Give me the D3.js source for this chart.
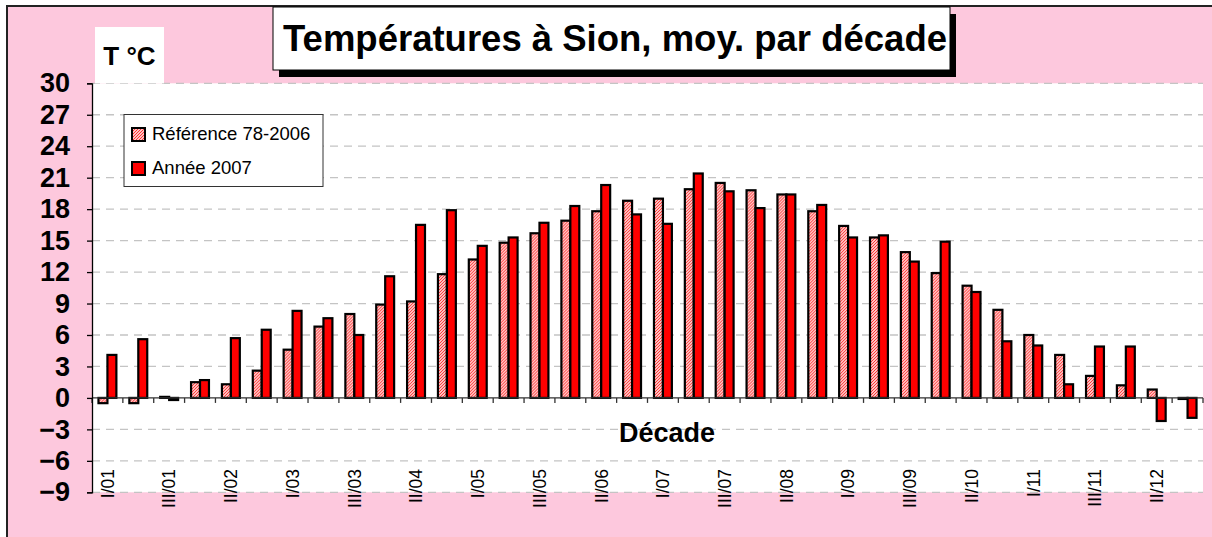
<!DOCTYPE html>
<html>
<head>
<meta charset="utf-8">
<script src="https://cdn.jsdelivr.net/npm/d3@7"></script>
<style>
  html, body { margin: 0; padding: 0; background: #ffffff; }
  svg { display: block; font-family: "Liberation Sans", Arial, sans-serif; }
</style>
</head>
<body>
<svg id="chart" width="1212" height="537"></svg>
<script>
// ---------- DATA ----------
const categories = [
  "I/01","II/01","III/01","I/02","II/02","III/02","I/03","II/03","III/03",
  "I/04","II/04","III/04","I/05","II/05","III/05","I/06","II/06","III/06",
  "I/07","II/07","III/07","I/08","II/08","III/08","I/09","II/09","III/09",
  "I/10","II/10","III/10","I/11","II/11","III/11","I/12","II/12","III/12"
];
const reference = [
  -0.5, -0.5, 0.1, 1.5, 1.3, 2.6, 4.6, 6.8, 8.0,
  8.9, 9.2, 11.8, 13.2, 14.8, 15.7, 16.9, 17.8, 18.8,
  19.0, 19.9, 20.5, 19.8, 19.4, 17.8, 16.4, 15.3, 13.9,
  11.9, 10.7, 8.4, 6.0, 4.1, 2.1, 1.2, 0.8, -0.1
];
const year2007 = [
  4.1, 5.6, -0.2, 1.7, 5.7, 6.5, 8.3, 7.6, 6.0,
  11.6, 16.5, 17.9, 14.5, 15.3, 16.7, 18.3, 20.3, 17.5,
  16.6, 21.4, 19.7, 18.1, 19.4, 18.4, 15.3, 15.5, 13.0,
  14.9, 10.1, 5.4, 5.0, 1.3, 4.9, 4.9, -2.2, -1.9
];
const seriesNames = ["Référence 78-2006", "Année 2007"];
const yTicks = [-9, -6, -3, 0, 3, 6, 9, 12, 15, 18, 21, 24, 27, 30];
const titleText = "Températures à Sion, moy. par décade";
const yLabel = "T °C";
const xLabel = "Décade";

// ---------- LAYOUT ----------
const svg = d3.select("#chart");
const plot = { left: 92, right: 1203, top: 83.3, bottom: 492.3 };

const defs = svg.append("defs");
const pat = defs.append("pattern")
  .attr("id", "hatch").attr("patternUnits", "userSpaceOnUse")
  .attr("width", 3).attr("height", 3);
pat.append("rect").attr("width", 3).attr("height", 3).attr("fill", "#ffffff");
pat.append("path").attr("d", "M-1,1 L1,-1 M0,3 L3,0 M2,4 L4,2")
  .attr("stroke", "#ff2a2a").attr("stroke-width", 1.1);

// chart background with frame
svg.append("rect").attr("x", 7).attr("y", 6).attr("width", 1240).attr("height", 560)
  .attr("fill", "#fdc8dd").attr("stroke", "#222").attr("stroke-width", 2);

// plot area
svg.append("rect").attr("x", plot.left).attr("y", plot.top)
  .attr("width", plot.right - plot.left).attr("height", plot.bottom - plot.top)
  .attr("fill", "#ffffff");

// scales
const y = d3.scaleLinear().domain([-9, 30]).range([plot.bottom, plot.top]);
const x0 = d3.scaleBand().domain(categories).range([plot.left, plot.right])
  .paddingInner(0.42).paddingOuter(0.21);
const x1 = d3.scaleBand().domain([0, 1]).range([0, x0.bandwidth()]);

// gridlines
svg.append("g").selectAll("line").data(yTicks.filter(d => d !== 0)).join("line")
  .attr("x1", plot.left).attr("x2", plot.right)
  .attr("y1", d => y(d)).attr("y2", d => y(d))
  .attr("stroke", "#c4c4c4").attr("stroke-width", 1.3).attr("stroke-dasharray", "8,6");

// bars
const groups = svg.append("g").selectAll("g").data(categories).join("g")
  .attr("transform", d => `translate(${x0(d)},0)`);
groups.selectAll("rect")
  .data((d, i) => [reference[i], year2007[i]].map((v, k) => ({ v, k })))
  .join("rect")
  .attr("x", d => x1(d.k))
  .attr("width", x1.bandwidth())
  .attr("y", d => y(Math.max(0, d.v)))
  .attr("height", d => Math.abs(y(d.v) - y(0)))
  .attr("fill", d => d.k === 0 ? "url(#hatch)" : "#ff0000")
  .attr("stroke", "#000").attr("stroke-width", 2.2);

// x axis at zero with ticks between categories
const step = x0.step();
const xAxis = svg.append("g");
xAxis.append("line").attr("x1", plot.left).attr("x2", plot.right)
  .attr("y1", y(0)).attr("y2", y(0)).attr("stroke", "#333").attr("stroke-width", 1.3);
xAxis.selectAll("line.t").data(d3.range(categories.length + 1)).join("line")
  .attr("class", "t")
  .attr("x1", i => plot.left + i * step).attr("x2", i => plot.left + i * step)
  .attr("y1", y(0)).attr("y2", y(0) + 5)
  .attr("stroke", "#333").attr("stroke-width", 1.3);

// category labels (every second)
svg.append("g").selectAll("text")
  .data(categories.filter((d, i) => i % 2 === 0)).join("text")
  .attr("transform", d => `translate(${x0(d) + x0.bandwidth() / 2},469) rotate(-90)`)
  .attr("text-anchor", "end").attr("dy", "0.36em")
  .attr("font-size", 17.5).attr("fill", "#000")
  .text(d => d);

// y axis
const yAxis = svg.append("g").attr("transform", `translate(${plot.left},0)`)
  .call(d3.axisLeft(y).tickValues(yTicks).tickSize(5).tickPadding(17));
yAxis.select(".domain").attr("stroke", "#000").attr("stroke-width", 1.3);
yAxis.selectAll(".tick line").attr("stroke", "#000").attr("stroke-width", 1.3);
yAxis.selectAll(".tick text")
  .attr("font-size", 27).attr("font-weight", "bold")
  .attr("font-family", "'Liberation Sans', Arial, sans-serif").attr("fill", "#000");

// "T °C" label box
svg.append("rect").attr("x", 95).attr("y", 27).attr("width", 69).attr("height", 56.3)
  .attr("fill", "#ffffff");
svg.append("text").attr("x", 129.5).attr("y", 65).attr("text-anchor", "middle")
  .attr("font-size", 26).attr("font-weight", "bold").text(yLabel);

// x label
svg.append("text").attr("x", 667).attr("y", 442).attr("text-anchor", "middle")
  .attr("font-size", 27).attr("font-weight", "bold").text(xLabel);

// title box with shadow
svg.append("rect").attr("x", 279).attr("y", 14).attr("width", 677).attr("height", 63)
  .attr("fill", "#000");
svg.append("rect").attr("x", 273).attr("y", 7).attr("width", 677).attr("height", 63)
  .attr("fill", "#ffffff").attr("stroke", "#000").attr("stroke-width", 1);
svg.append("text").attr("x", 615).attr("y", 51).attr("text-anchor", "middle")
  .attr("font-size", 36.5).attr("font-weight", "bold").text(titleText);

// legend
const lg = svg.append("g");
lg.append("rect").attr("x", 124).attr("y", 114.5).attr("width", 199).attr("height", 72)
  .attr("fill", "#ffffff").attr("stroke", "#333").attr("stroke-width", 1);
const legendRows = [{ name: seriesNames[0], fill: "url(#hatch)", yy: 128 },
                    { name: seriesNames[1], fill: "#ff0000", yy: 162 }];
lg.selectAll("rect.sw").data(legendRows).join("rect").attr("class", "sw")
  .attr("x", 132).attr("y", d => d.yy).attr("width", 13).attr("height", 13)
  .attr("fill", d => d.fill).attr("stroke", "#000").attr("stroke-width", 2);
lg.selectAll("text").data(legendRows).join("text")
  .attr("x", 152).attr("y", d => d.yy + 12)
  .attr("font-size", 18.5).text(d => d.name);
</script>
</body>
</html>
